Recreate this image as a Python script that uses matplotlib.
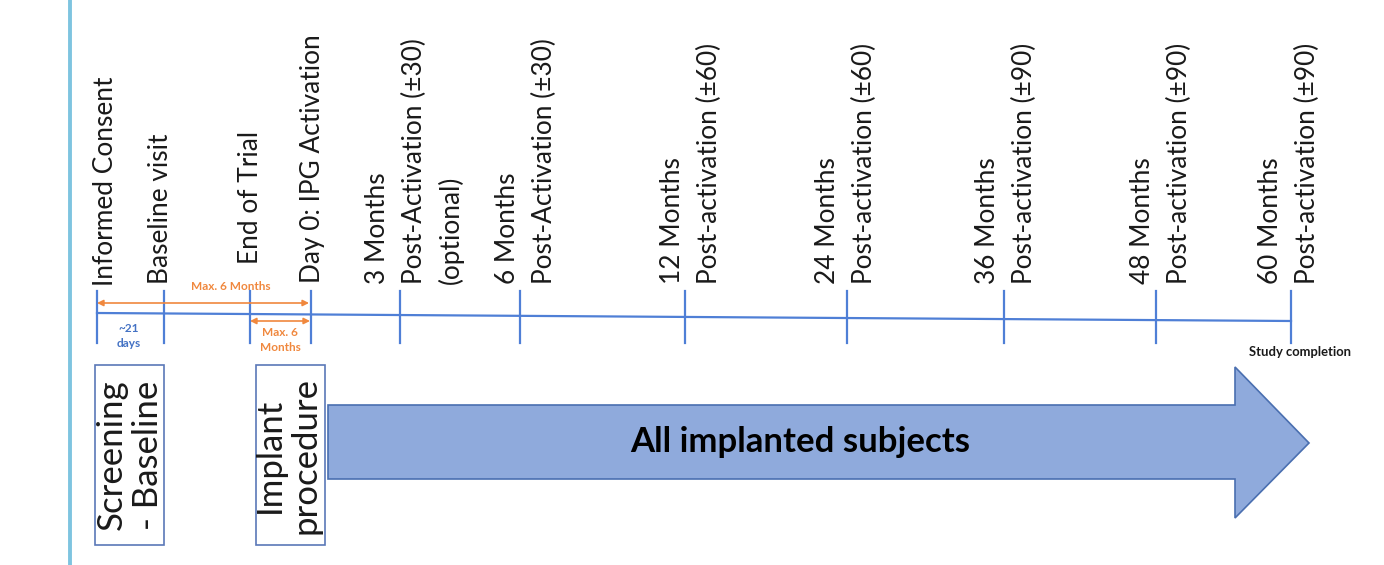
import matplotlib
matplotlib.use("Agg")
import matplotlib.pyplot as plt
from matplotlib.patches import Polygon, Rectangle

plt.rcParams['font.family'] = ['Lato', 'DejaVu Sans']

# milestone labels (one list of lines each) and where their ticks sit on the timeline
milestone_lines = [
    ["Informed Consent"],
    ["Baseline visit"],
    ["End of Trial"],
    ["Day 0: IPG Activation"],
    ["3 Months", "Post-Activation (\u00b130)", "(optional)"],
    ["6 Months", "Post-Activation (\u00b130)"],
    ["12 Months", "Post-activation (\u00b160)"],
    ["24 Months", "Post-activation (\u00b160)"],
    ["36 Months", "Post-activation (\u00b190)"],
    ["48 Months", "Post-activation (\u00b190)"],
    ["60 Months", "Post-activation (\u00b190)"],
]
tick_x = [97, 164, 250, 311, 400, 520, 685, 847, 1004, 1156, 1291]
# baseline position of the first text line of each label, and its bottom end
label_x = [113, 168, 258, 320, 385, 515, 680, 835, 995, 1150, 1278]
label_y = [286, 284, 264, 283, 284, 284, 284, 284, 284, 284, 284]

phase_boxes = [["Screening", "- Baseline"], ["Implant", "procedure"]]
phase_box_x = [(95, 164), (256, 325)]
phase_text_x = [122, 280]

arrow_label = "All implanted subjects"

BLUE = '#4f7fd6'
ORANGE = '#f0883e'
TXT = '#1a1a1a'

fig = plt.figure(figsize=(13.84, 5.65), dpi=100)
ax = fig.add_axes([0, 0, 1, 1])
ax.set_xlim(0, 1384)
ax.set_ylim(565, 0)
ax.axis('off')

# left border line
ax.plot([70, 70], [0, 565], color='#7ec4e0', lw=2.8, solid_capstyle='butt')

# timeline
ax.plot([tick_x[0], tick_x[-1]], [313, 321], color=BLUE, lw=1.6)
for x in tick_x:
    ax.plot([x, x], [291, 343], color=BLUE, lw=1.6)

line_gap = 37
for lines, x0, y0 in zip(milestone_lines, label_x, label_y):
    for i, s in enumerate(lines):
        ax.text(x0 + i * line_gap, y0, s, rotation=90, rotation_mode='anchor',
                ha='left', va='baseline', fontsize=18.9, color=TXT)

# orange windows
def dbl_arrow(x1, x2, y):
    ax.annotate('', xy=(x2, y), xytext=(x1, y),
                arrowprops=dict(arrowstyle='<|-|>', color=ORANGE, lw=1.2,
                                mutation_scale=9, shrinkA=0, shrinkB=0))

dbl_arrow(97, 309, 303)
ax.text(231, 286, "Max. 6 Months", ha='center', va='center', fontsize=8.5,
        fontweight='bold', color=ORANGE)
dbl_arrow(250, 310, 321)
ax.text(280, 340, "Max. 6\nMonths", ha='center', va='center', fontsize=8.5,
        fontweight='bold', color=ORANGE, linespacing=1.4)

ax.text(129, 336, "~21\ndays", ha='center', va='center', fontsize=8.5,
        fontweight='bold', color='#4472c4', linespacing=1.4)

ax.text(1300, 352, "Study completion", ha='center', va='center', fontsize=9.4,
        fontweight='bold', color=TXT)

# phase boxes
for (x1, x2), lines, tx in zip(phase_box_x, phase_boxes, phase_text_x):
    ax.add_patch(Rectangle((x1, 365), x2 - x1, 180, facecolor='white',
                           edgecolor='#5a78b8', lw=1.2))
    for i, s in enumerate(lines):
        ax.text(tx + i * 36, 455, s, rotation=90, rotation_mode='anchor',
                ha='center', va='baseline', fontsize=25, color=TXT)

# big arrow
arrow_pts = [(328, 405), (1235, 405), (1235, 367), (1309, 443),
             (1235, 518), (1235, 479), (328, 479)]
ax.add_patch(Polygon(arrow_pts, closed=True, facecolor='#8faadc',
                     edgecolor='#4a6fb0', lw=1.2))
ax.text(800, 442, arrow_label, ha='center', va='center', fontsize=25,
        fontweight='bold', color='black')

fig.savefig('out.png', dpi=100)
